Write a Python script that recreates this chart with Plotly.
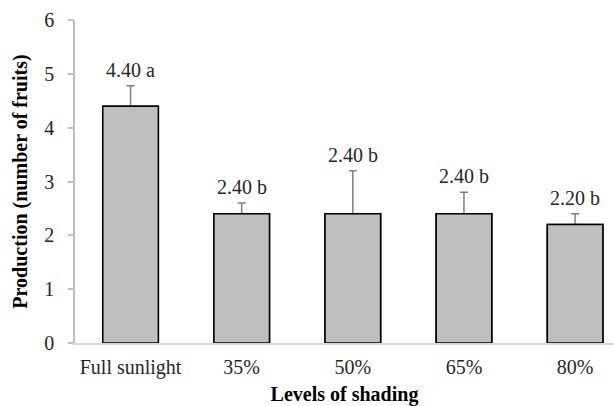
import plotly.graph_objects as go

# Fruit production under different shading levels
categories = ["Full sunlight", "35%", "50%", "65%", "80%"]
production = [4.40, 2.40, 2.40, 2.40, 2.20]
std_error = [0.38, 0.20, 0.80, 0.40, 0.20]
letters = ["a", "b", "b", "b", "b"]

y_ticks = [0, 1, 2, 3, 4, 5, 6]

FONT = "Liberation Serif"
BAR_FILL = "#BFBFBF"
AXIS_GRAY = "#BFBFBF"

fig = go.Figure()

# Bars carrying the upper error bars
fig.add_trace(go.Bar(
    x=categories,
    y=production,
    width=0.5,
    marker=dict(color=BAR_FILL, line=dict(color="black", width=1.5)),
    error_y=dict(
        type="data",
        symmetric=False,
        array=std_error,
        arrayminus=[0] * len(std_error),
        color="#7F7F7F",
        thickness=1.5,
        width=4,
    ),
    showlegend=False,
    hoverinfo="skip",
))

# Same bars drawn again on top so the outline covers the error-bar foot
fig.add_trace(go.Bar(
    x=categories,
    y=production,
    width=0.5,
    marker=dict(color=BAR_FILL, line=dict(color="black", width=1.5)),
    showlegend=False,
    hoverinfo="skip",
))

# Mean value + significance letter above each error bar
for cat, val, err, let in zip(categories, production, std_error, letters):
    fig.add_annotation(
        x=cat,
        y=val + err,
        text=f"{val:.2f} {let}",
        showarrow=False,
        yanchor="bottom",
        yshift=3,
        font=dict(family=FONT, size=20, color="#262626"),
    )

fig.update_layout(
    width=614,
    height=406,
    margin=dict(l=75, r=0, t=20, b=63),
    paper_bgcolor="white",
    plot_bgcolor="white",
    barmode="overlay",
    font=dict(family=FONT, size=20, color="#262626"),
    xaxis=dict(
        type="category",
        range=[-0.5, 4.35],
        showline=True,
        linecolor="#D9D9D9",
        linewidth=1.5,
        ticks="",
        ticklabelstandoff=5,
        showgrid=False,
        zeroline=False,
        tickfont=dict(family=FONT, size=20, color="#262626"),
        title=dict(
            text="<b>Levels of shading</b>",
            font=dict(family=FONT, size=20, color="black"),
            standoff=9,
        ),
    ),
    yaxis=dict(
        range=[0, 6],
        tickvals=y_ticks,
        ticktext=[str(v) for v in y_ticks],
        showline=True,
        linecolor=AXIS_GRAY,
        linewidth=1.5,
        ticks="outside",
        ticklen=5,
        tickwidth=1.5,
        tickcolor=AXIS_GRAY,
        ticklabelstandoff=10,
        showgrid=False,
        zeroline=False,
        tickfont=dict(family=FONT, size=20, color="#262626"),
        title=dict(
            text="<b>Production (number of fruits)</b>",
            font=dict(family=FONT, size=20, color="black"),
            standoff=11,
        ),
    ),
)

fig.write_html("out.html")
